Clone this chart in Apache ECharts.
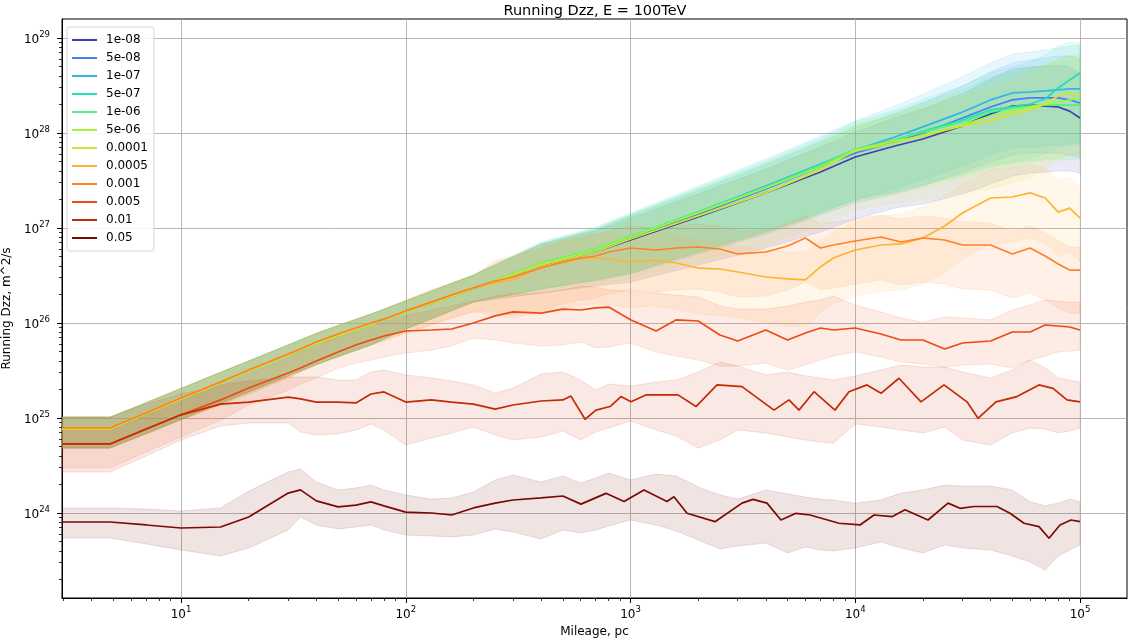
<!DOCTYPE html>
<html><head><meta charset="utf-8">
<script src="https://cdn.jsdelivr.net/npm/echarts@6/dist/echarts.min.js"></script>
<style>html,body{margin:0;padding:0;background:#fff}#c{width:1128px;height:643px}</style>
</head><body><div id="c"></div>
<script>
// ---------- tick values ----------
const X_TICKS = [10, 100, 1000, 10000, 100000];
const Y_TICKS = [1e24, 1e25, 1e26, 1e27, 1e28, 1e29];
const MINOR_X = [3,4,5,6,7,8,9,20,30,40,50,60,70,80,90,200,300,400,500,600,700,800,900,2000,3000,4000,5000,6000,7000,8000,9000,20000,30000,40000,50000,60000,70000,80000,90000];
const MINOR_Y = [2e23,3e23,4e23,5e23,6e23,7e23,8e23,9e23,2e24,3e24,4e24,5e24,6e24,7e24,8e24,9e24,2e25,3e25,4e25,5e25,6e25,7e25,8e25,9e25,2e26,3e26,4e26,5e26,6e26,7e26,8e26,9e26,2e27,3e27,4e27,5e27,6e27,7e27,8e27,9e27,2e28,3e28,4e28,5e28,6e28,7e28,8e28,9e28];

// ---------- categories ----------
const SERIES_LABELS = ['1e-08','5e-08','1e-07','5e-07','1e-06','5e-06','0.0001','0.0005','0.001','0.005','0.01','0.05'];

// ---------- mileage grids (pc) ----------
const X_COARSE = [2.954, 4.83, 10, 20, 40, 70, 100, 200, 400, 700, 1000, 2000, 4000, 7000, 10000, 15000, 20000, 30000, 40000, 50000, 60000, 70000, 80000, 90000, 100000];
const X_FINE = [2.954, 4.83, 7, 10, 15, 20, 30, 34, 40, 50, 60, 70, 80, 100, 130, 160, 200, 250, 300, 400, 500, 600, 700, 800, 1000, 1300, 1600, 2000, 2500, 3000, 4000, 5000, 6000, 7000, 8000, 10000, 13000, 16000, 20000, 25000, 30000, 40000, 50000, 60000, 70000, 80000, 90000, 100000];
const X_LINE_001 = [2.954, 4.83, 7, 10, 15, 20, 30, 34, 40, 50, 60, 70, 80, 100, 130, 160, 200, 250, 300, 400, 500, 543, 628, 702, 811, 907, 1005, 1172, 1627, 1956, 2426, 3134, 4350, 5072, 5620, 6555, 8126, 9380, 11280, 13020, 15650, 19620, 24830, 31430, 35180, 42290, 52450, 65700, 75850, 87540, 100000];
const X_LINE_005 = [2.954, 4.83, 7, 10, 15, 20, 30, 34, 40, 50, 60, 70, 80, 100, 130, 160, 200, 250, 300, 400, 500, 602, 778, 936, 1148, 1453, 1561, 1784, 2377, 3134, 3509, 4050, 4673, 5451, 6292, 8468, 10500, 12120, 14570, 16650, 21080, 25870, 29250, 33760, 42720, 48820, 56350, 65700, 72800, 81480, 91200, 100000];

// ---------- Dzz values (m^2/s): mean, lower, upper ----------
const D_1E08 = [7.66e24, 7.66e24, 1.58e25, 3.12e25, 6.1e25, 9.75e25, 1.31e26, 2.3e26, 4.08e26, 5.59e26, 7.48e26, 1.31e27, 2.34e27, 3.89e27, 5.59e27, 7.3e27, 8.65e27, 1.19e28, 1.59e28, 1.92e28, 1.97e28, 1.92e28, 1.88e28, 1.7e28, 1.44e28];
const HI_1E08 = [1.02e25, 1.02e25, 2.04e25, 3.98e25, 7.75e25, 1.24e26, 1.7e26, 3.2e26, 6.62e26, 9.3e26, 1.27e27, 2.28e27, 4.18e27, 7.12e27, 1.02e28, 1.44e28, 1.79e28, 2.57e28, 3.7e28, 4.72e28, 4.95e28, 5.07e28, 5.2e28, 4.95e28, 4.28e28];
const LO_1E08 = [4.83e24, 4.83e24, 9.64e24, 1.88e25, 3.66e25, 5.87e25, 8.65e25, 1.66e26, 2.07e26, 2.45e26, 2.7e26, 4.08e26, 6.16e26, 9.08e26, 1.24e27, 1.62e27, 1.79e27, 2.28e27, 2.91e27, 3.53e27, 3.79e27, 3.89e27, 3.98e27, 3.98e27, 3.79e27];

const D_5E08 = [7.66e24, 7.66e24, 1.58e25, 3.12e25, 6.1e25, 9.75e25, 1.31e26, 2.3e26, 4.18e26, 5.73e26, 7.85e26, 1.4e27, 2.57e27, 4.39e27, 6.16e27, 8.04e27, 1.0e28, 1.44e28, 1.88e28, 2.23e28, 2.34e28, 2.34e28, 2.34e28, 2.23e28, 2.07e28];
const HI_5E08 = [1.02e25, 1.02e25, 2.04e25, 3.98e25, 7.75e25, 1.24e26, 1.7e26, 3.2e26, 6.79e26, 9.53e26, 1.34e27, 2.45e27, 4.6e27, 8.04e27, 1.13e28, 1.59e28, 2.07e28, 3.12e28, 4.39e28, 5.46e28, 5.87e28, 6.16e28, 6.46e28, 6.46e28, 6.16e28];
const LO_5E08 = [4.83e24, 4.83e24, 9.64e24, 1.88e25, 3.66e25, 5.87e25, 8.65e25, 1.66e26, 2.28e26, 2.77e26, 3.28e26, 5.33e26, 8.65e26, 1.37e27, 1.83e27, 2.28e27, 2.77e27, 3.89e27, 4.95e27, 5.87e27, 6.16e27, 6.16e27, 6.16e27, 5.87e27, 5.46e27];

const D_1E07 = [7.66e24, 7.66e24, 1.58e25, 3.12e25, 6.1e25, 9.75e25, 1.31e26, 2.3e26, 4.18e26, 5.87e26, 8.04e26, 1.47e27, 2.77e27, 4.72e27, 6.62e27, 9.08e27, 1.16e28, 1.66e28, 2.23e28, 2.64e28, 2.7e28, 2.77e28, 2.84e28, 2.91e28, 2.91e28];
const HI_1E07 = [1.02e25, 1.02e25, 2.04e25, 3.98e25, 7.75e25, 1.24e26, 1.7e26, 3.2e26, 7.12e26, 1.02e27, 1.44e27, 2.77e27, 5.33e27, 9.3e27, 1.34e28, 1.92e28, 2.57e28, 3.89e28, 5.46e28, 6.79e28, 7.12e28, 7.48e28, 7.85e28, 8.24e28, 8.44e28];
const LO_1E07 = [4.83e24, 4.83e24, 9.64e24, 1.88e25, 3.66e25, 5.87e25, 8.65e25, 1.66e26, 2.28e26, 2.84e26, 3.36e26, 5.59e26, 9.3e26, 1.47e27, 1.97e27, 2.57e27, 3.2e27, 4.49e27, 5.87e27, 6.95e27, 7.12e27, 7.3e27, 7.48e27, 7.66e27, 7.66e27];

const D_5E07 = [7.66e24, 7.66e24, 1.58e25, 3.12e25, 6.1e25, 9.75e25, 1.31e26, 2.3e26, 4.18e26, 5.87e26, 8.04e26, 1.47e27, 2.7e27, 4.6e27, 6.62e27, 8.44e27, 1.05e28, 1.37e28, 1.75e28, 1.88e28, 2.02e28, 2.28e28, 2.98e28, 3.61e28, 4.28e28];
const HI_5E07 = [1.02e25, 1.02e25, 2.04e25, 3.98e25, 7.75e25, 1.24e26, 1.7e26, 3.2e26, 6.79e26, 9.76e26, 1.37e27, 2.64e27, 5.07e27, 8.86e27, 1.31e28, 1.75e28, 2.28e28, 3.12e28, 4.28e28, 4.95e28, 5.59e28, 6.62e28, 8.24e28, 9.08e28, 8.86e28];
const LO_5E07 = [4.83e24, 4.83e24, 9.64e24, 1.88e25, 3.66e25, 5.87e25, 8.65e25, 1.66e26, 2.28e26, 2.84e26, 3.36e26, 5.59e26, 9.08e26, 1.44e27, 1.97e27, 2.39e27, 2.91e27, 3.7e27, 4.6e27, 4.95e27, 5.33e27, 6.01e27, 6.95e27, 7.48e27, 7.85e27];

const D_1E06 = [7.66e24, 7.66e24, 1.58e25, 3.12e25, 6.1e25, 9.75e25, 1.31e26, 2.3e26, 4.28e26, 6.01e26, 8.24e26, 1.47e27, 2.7e27, 4.6e27, 6.79e27, 8.44e27, 1.02e28, 1.31e28, 1.66e28, 1.83e28, 1.92e28, 1.97e28, 1.97e28, 1.97e28, 1.97e28];
const HI_1E06 = [1.02e25, 1.02e25, 2.04e25, 3.98e25, 7.75e25, 1.24e26, 1.7e26, 3.2e26, 6.95e26, 1.0e27, 1.4e27, 2.57e27, 4.83e27, 8.44e27, 1.24e28, 1.66e28, 2.12e28, 2.84e28, 3.89e28, 4.49e28, 4.83e28, 5.2e28, 5.46e28, 5.73e28, 5.87e28];
const LO_1E06 = [4.83e24, 4.83e24, 9.64e24, 1.88e25, 3.66e25, 5.87e25, 8.65e25, 1.66e26, 2.34e26, 2.91e26, 3.44e26, 5.59e26, 9.08e26, 1.44e27, 2.02e27, 2.39e27, 2.84e27, 3.53e27, 4.39e27, 4.83e27, 5.07e27, 5.2e27, 5.2e27, 5.2e27, 5.2e27];

const D_5E06 = [7.66e24, 7.66e24, 1.58e25, 3.12e25, 6.1e25, 9.75e25, 1.31e26, 2.3e26, 4.18e26, 5.87e26, 8.04e26, 1.44e27, 2.64e27, 4.39e27, 6.46e27, 7.85e27, 9.53e27, 1.21e28, 1.51e28, 1.7e28, 1.88e28, 2.02e28, 2.12e28, 2.23e28, 2.34e28];
const HI_5E06 = [1.02e25, 1.02e25, 2.04e25, 3.98e25, 7.75e25, 1.24e26, 1.7e26, 3.2e26, 6.79e26, 9.76e26, 1.37e27, 2.51e27, 4.72e27, 8.04e27, 1.19e28, 1.55e28, 1.97e28, 2.64e28, 3.53e28, 4.18e28, 4.72e28, 5.33e28, 5.87e28, 6.46e28, 6.95e28];
const LO_5E06 = [4.83e24, 4.83e24, 9.64e24, 1.88e25, 3.66e25, 5.87e25, 8.65e25, 1.66e26, 2.28e26, 2.84e26, 3.36e26, 5.46e26, 8.86e26, 1.37e27, 1.92e27, 2.23e27, 2.64e27, 3.28e27, 3.98e27, 4.49e27, 4.95e27, 5.33e27, 5.59e27, 5.87e27, 6.16e27];

const D_1E04 = [7.66e24, 7.66e24, 1.58e25, 3.12e25, 6.1e25, 9.75e25, 1.31e26, 2.3e26, 4.08e26, 5.59e26, 7.66e26, 1.34e27, 2.34e27, 4.08e27, 6.62e27, 8.24e27, 9.3e27, 1.19e28, 1.34e28, 1.59e28, 1.75e28, 2.02e28, 2.45e28, 2.64e28, 2.51e28];
const HI_1E04 = [1.02e25, 1.02e25, 2.04e25, 3.98e25, 7.75e25, 1.24e26, 1.7e26, 3.2e26, 6.31e26, 8.86e26, 1.24e27, 2.23e27, 3.98e27, 7.12e27, 1.19e28, 1.55e28, 1.83e28, 2.45e28, 2.91e28, 3.61e28, 4.08e28, 4.83e28, 6.01e28, 6.62e28, 6.31e28];
const LO_1E04 = [4.83e24, 4.83e24, 9.64e24, 1.88e25, 3.66e25, 5.87e25, 8.65e25, 1.66e26, 2.07e26, 2.51e26, 2.91e26, 4.39e26, 6.62e26, 1.05e27, 1.55e27, 1.83e27, 1.97e27, 2.39e27, 2.57e27, 3.05e27, 3.36e27, 4.08e27, 5.2e27, 5.87e27, 5.87e27];

const D_5E04 = [7.85e24, 7.85e24, 1.13e25, 1.62e25, 2.39e25, 3.2e25, 4.72e25, 5.33e25, 6.31e25, 7.66e25, 8.86e25, 1.0e26, 1.1e26, 1.34e26, 1.66e26, 1.97e26, 2.34e26, 2.64e26, 2.84e26, 3.89e26, 4.28e26, 4.72e26, 4.83e26, 4.72e26, 4.39e26, 4.6e26, 4.28e26, 3.79e26, 3.7e26, 3.44e26, 3.05e26, 2.91e26, 2.84e26, 3.89e26, 4.83e26, 5.87e26, 6.62e26, 6.79e26, 7.85e26, 1.05e27, 1.44e27, 2.07e27, 2.12e27, 2.34e27, 2.07e27, 1.47e27, 1.62e27, 1.27e27];
const HI_5E04 = [1.02e25, 1.02e25, 1.44e25, 2.07e25, 3.05e25, 3.98e25, 5.87e25, 6.62e25, 7.85e25, 9.53e25, 1.1e26, 1.24e26, 1.4e26, 1.75e26, 2.23e26, 2.64e26, 3.12e26, 4.6e26, 5.07e26, 6.79e26, 7.48e26, 8.24e26, 8.65e26, 8.65e26, 8.24e26, 8.65e26, 8.24e26, 7.48e26, 7.12e26, 6.46e26, 5.87e26, 5.59e26, 5.59e26, 7.48e26, 9.08e26, 1.16e27, 1.34e27, 1.4e27, 1.66e27, 2.17e27, 2.91e27, 4.08e27, 4.28e27, 4.72e27, 4.28e27, 3.2e27, 3.36e27, 2.77e27];
const LO_5E04 = [4.83e24, 4.83e24, 6.79e24, 9.53e24, 1.37e25, 1.79e25, 2.64e25, 3.05e25, 3.61e25, 4.49e25, 5.2e25, 5.87e25, 6.46e25, 7.85e25, 9.53e25, 1.13e26, 1.31e26, 1.19e26, 1.13e26, 1.31e26, 1.44e26, 1.55e26, 1.59e26, 1.55e26, 1.47e26, 1.51e26, 1.4e26, 1.24e26, 1.21e26, 1.13e26, 1.0e26, 9.3e25, 9.3e25, 1.27e26, 1.59e26, 1.92e26, 2.17e26, 2.23e26, 2.57e26, 3.44e26, 4.72e26, 6.79e26, 7.12e26, 7.85e26, 6.95e26, 5.07e26, 5.59e26, 4.39e26];

const D_1E03 = [7.85e24, 7.85e24, 1.13e25, 1.62e25, 2.39e25, 3.2e25, 4.72e25, 5.33e25, 6.31e25, 7.66e25, 8.86e25, 1.0e26, 1.1e26, 1.34e26, 1.66e26, 1.97e26, 2.34e26, 2.77e26, 3.05e26, 3.79e26, 4.39e26, 4.83e26, 5.07e26, 5.59e26, 6.16e26, 5.87e26, 6.16e26, 6.31e26, 6.01e26, 5.33e26, 5.59e26, 6.46e26, 7.85e26, 6.16e26, 6.62e26, 7.3e26, 8.04e26, 7.12e26, 7.85e26, 7.48e26, 6.62e26, 6.62e26, 5.33e26, 6.16e26, 5.07e26, 4.18e26, 3.61e26, 3.61e26];
const HI_1E03 = [1.02e25, 1.02e25, 1.44e25, 2.07e25, 3.05e25, 3.98e25, 5.87e25, 6.62e25, 7.85e25, 9.53e25, 1.1e26, 1.24e26, 1.4e26, 1.75e26, 2.23e26, 2.64e26, 3.12e26, 4.39e26, 4.95e26, 6.16e26, 7.12e26, 7.85e26, 8.44e26, 9.3e26, 1.05e27, 1.0e27, 1.05e27, 1.1e27, 1.05e27, 9.3e26, 9.53e26, 1.1e27, 1.34e27, 1.1e27, 1.16e27, 1.24e27, 1.37e27, 1.24e27, 1.34e27, 1.27e27, 1.16e27, 1.13e27, 9.3e26, 1.05e27, 8.86e26, 7.3e26, 6.31e26, 6.31e26];
const LO_1E03 = [4.83e24, 4.83e24, 6.79e24, 9.53e24, 1.37e25, 1.79e25, 2.64e25, 3.05e25, 3.61e25, 4.49e25, 5.2e25, 5.87e25, 6.46e25, 7.85e25, 9.53e25, 1.13e26, 1.31e26, 1.31e26, 1.21e26, 1.37e26, 1.59e26, 1.75e26, 1.83e26, 2.02e26, 2.23e26, 2.12e26, 2.23e26, 2.28e26, 2.12e26, 1.88e26, 1.92e26, 2.23e26, 2.7e26, 2.23e26, 2.34e26, 2.57e26, 2.84e26, 2.51e26, 2.7e26, 2.57e26, 2.28e26, 2.23e26, 1.83e26, 2.07e26, 1.75e26, 1.44e26, 1.27e26, 1.27e26];

const D_5E03 = [5.33e24, 5.33e24, 7.66e24, 1.08e25, 1.55e25, 2.07e25, 2.98e25, 3.36e25, 3.98e25, 4.95e25, 5.87e25, 6.62e25, 7.3e25, 8.24e25, 8.44e25, 8.65e25, 1.0e26, 1.19e26, 1.31e26, 1.27e26, 1.4e26, 1.37e26, 1.44e26, 1.47e26, 1.08e26, 8.24e25, 1.08e26, 1.05e26, 7.48e25, 6.46e25, 8.44e25, 6.62e25, 7.85e25, 8.86e25, 8.44e25, 8.86e25, 7.66e25, 6.62e25, 6.62e25, 5.33e25, 6.16e25, 6.46e25, 8.04e25, 8.04e25, 9.53e25, 9.3e25, 9.08e25, 8.44e25];
const HI_5E03 = [7.48e24, 7.48e24, 1.08e25, 1.55e25, 2.17e25, 2.91e25, 4.28e25, 4.95e25, 5.73e25, 7.12e25, 8.04e25, 9.08e25, 1.02e26, 1.19e26, 1.37e26, 1.51e26, 1.7e26, 1.92e26, 2.02e26, 2.07e26, 2.23e26, 2.45e26, 2.39e26, 2.23e26, 2.17e26, 2.07e26, 1.97e26, 1.88e26, 1.51e26, 1.4e26, 1.4e26, 1.51e26, 1.66e26, 1.75e26, 1.92e26, 1.55e26, 1.31e26, 1.13e26, 1.02e26, 1.16e26, 1.13e26, 1.08e26, 1.37e26, 1.55e26, 1.75e26, 1.7e26, 1.66e26, 1.66e26];
const LO_5E03 = [2.98e24, 2.98e24, 4.39e24, 6.31e24, 9.53e24, 1.37e25, 1.97e25, 2.28e25, 2.64e25, 3.36e25, 3.79e25, 4.08e25, 4.39e25, 4.83e25, 5.2e25, 5.73e25, 6.95e25, 6.62e25, 6.16e25, 5.73e25, 5.87e25, 6.31e25, 5.46e25, 5.59e25, 6.16e25, 4.95e25, 4.49e25, 4.08e25, 3.53e25, 3.53e25, 3.79e25, 3.2e25, 3.61e25, 4.08e25, 4.49e25, 4.95e25, 4.39e25, 3.89e25, 3.7e25, 3.44e25, 3.61e25, 3.7e25, 3.36e25, 4.08e25, 4.49e25, 4.95e25, 5.07e25, 5.2e25];

const D_1E02 = [5.33e24, 5.33e24, 7.66e24, 1.08e25, 1.4e25, 1.47e25, 1.66e25, 1.59e25, 1.47e25, 1.47e25, 1.44e25, 1.79e25, 1.88e25, 1.47e25, 1.55e25, 1.47e25, 1.4e25, 1.24e25, 1.37e25, 1.51e25, 1.55e25, 1.7e25, 9.7e24, 1.21e25, 1.32e25, 1.68e25, 1.48e25, 1.75e25, 1.75e25, 1.32e25, 2.23e25, 2.14e25, 1.21e25, 1.55e25, 1.21e25, 1.89e25, 1.21e25, 1.89e25, 2.23e25, 1.82e25, 2.62e25, 1.48e25, 2.23e25, 1.48e25, 9.93e24, 1.48e25, 1.68e25, 2.23e25, 2.05e25, 1.55e25, 1.48e25];
const HI_1E02 = [1.02e25, 1.02e25, 1.4e25, 1.79e25, 2.23e25, 2.45e25, 2.7e25, 2.7e25, 2.7e25, 2.51e25, 2.51e25, 3.05e25, 3.2e25, 2.84e25, 2.64e25, 2.45e25, 2.23e25, 1.83e25, 2.07e25, 2.91e25, 3.05e25, 2.51e25, 1.97e25, 2.28e25, 2.17e25, 2.39e25, 2.51e25, 3.05e25, 3.89e25, 3.53e25, 2.84e25, 3.05e25, 2.77e25, 2.64e25, 2.51e25, 2.77e25, 3.2e25, 3.61e25, 3.44e25, 3.44e25, 3.05e25, 2.64e25, 3.2e25, 4.08e25, 3.36e25, 2.64e25, 2.51e25, 2.39e25];
const LO_1E02 = [2.7e24, 2.7e24, 3.98e24, 5.87e24, 8.24e24, 8.86e24, 8.86e24, 7.12e24, 6.62e24, 6.79e24, 7.48e24, 8.65e24, 7.48e24, 5.2e24, 6.16e24, 6.95e24, 8.04e24, 6.62e24, 5.87e24, 6.31e24, 7.3e24, 5.87e24, 7.12e24, 7.85e24, 9.3e24, 7.48e24, 6.46e24, 4.83e24, 5.87e24, 7.48e24, 6.95e24, 6.31e24, 5.87e24, 5.59e24, 5.46e24, 8.65e24, 8.04e24, 7.48e24, 6.95e24, 8.04e24, 5.87e24, 5.2e24, 6.95e24, 7.85e24, 7.66e24, 6.95e24, 7.3e24, 7.85e24];

const D_5E02 = [8.04e23, 8.04e23, 7.48e23, 6.95e23, 7.12e23, 9.08e23, 1.62e24, 1.75e24, 1.34e24, 1.16e24, 1.21e24, 1.31e24, 1.19e24, 1.02e24, 1.0e24, 9.53e23, 1.13e24, 1.27e24, 1.37e24, 1.44e24, 1.51e24, 1.24e24, 1.61e24, 1.32e24, 1.75e24, 1.32e24, 1.48e24, 9.93e23, 8.1e23, 1.27e24, 1.39e24, 1.27e24, 8.44e23, 9.93e23, 9.53e23, 7.8e23, 7.48e23, 9.53e23, 9.15e23, 1.08e24, 8.44e23, 1.27e24, 1.12e24, 1.17e24, 1.17e24, 9.93e23, 7.8e23, 7.18e23, 5.42e23, 7.48e23, 8.44e23, 8.1e23];
const HI_5E02 = [1.13e24, 1.13e24, 1.1e24, 1.05e24, 1.13e24, 1.7e24, 2.7e24, 2.91e24, 2.12e24, 1.75e24, 1.83e24, 1.97e24, 1.75e24, 1.55e24, 1.4e24, 1.44e24, 1.66e24, 2.23e24, 2.51e24, 2.12e24, 2.45e24, 2.07e24, 2.34e24, 2.64e24, 2.23e24, 2.57e24, 2.45e24, 1.88e24, 1.55e24, 1.4e24, 1.75e24, 1.59e24, 1.47e24, 1.4e24, 1.37e24, 1.27e24, 1.37e24, 1.62e24, 1.75e24, 1.97e24, 1.92e24, 1.92e24, 1.75e24, 1.31e24, 1.19e24, 1.27e24, 1.4e24, 1.31e24];
const LO_5E02 = [5.46e23, 5.46e23, 4.72e23, 4.08e23, 3.53e23, 4.28e23, 6.62e23, 9.08e23, 7.48e23, 6.79e23, 7.12e23, 7.48e23, 6.62e23, 5.87e23, 5.73e23, 5.59e23, 5.87e23, 6.79e23, 6.31e23, 5.33e23, 6.62e23, 6.16e23, 6.62e23, 7.3e23, 8.44e23, 7.48e23, 6.46e23, 5.2e23, 4.18e23, 4.49e23, 4.83e23, 3.79e23, 4.39e23, 4.08e23, 3.98e23, 4.28e23, 4.95e23, 4.28e23, 3.79e23, 4.6e23, 4.28e23, 4.08e23, 3.53e23, 3.05e23, 2.51e23, 3.53e23, 4.08e23, 4.6e23];

// ---------- styling ----------
const LINE_COLORS = ['#4040b0','#4580f5','#2cb6ea','#22e0b5','#4ff57a','#a4f53c','#d6e232','#fdb434','#ff8029','#ec4c13','#c42a04','#7a0a03'];
const FONT = 'DejaVu Sans';
const X_MIN = 2.954, X_MAX = 161900, Y_MIN = 1.274e23, Y_MAX = 1.585e29;

// [line x, mean, band x, lower, upper]
const SERIES_TABLE = [
  [X_COARSE, D_1E08, X_COARSE, LO_1E08, HI_1E08],
  [X_COARSE, D_5E08, X_COARSE, LO_5E08, HI_5E08],
  [X_COARSE, D_1E07, X_COARSE, LO_1E07, HI_1E07],
  [X_COARSE, D_5E07, X_COARSE, LO_5E07, HI_5E07],
  [X_COARSE, D_1E06, X_COARSE, LO_1E06, HI_1E06],
  [X_COARSE, D_5E06, X_COARSE, LO_5E06, HI_5E06],
  [X_COARSE, D_1E04, X_COARSE, LO_1E04, HI_1E04],
  [X_FINE, D_5E04, X_FINE, LO_5E04, HI_5E04],
  [X_FINE, D_1E03, X_FINE, LO_1E03, HI_1E03],
  [X_FINE, D_5E03, X_FINE, LO_5E03, HI_5E03],
  [X_LINE_001, D_1E02, X_FINE, LO_1E02, HI_1E02],
  [X_LINE_005, D_5E02, X_FINE, LO_5E02, HI_5E02]
];

function rgba(hex, a) {
  const n = parseInt(hex.slice(1), 16);
  return 'rgba(' + ((n >> 16) & 255) + ',' + ((n >> 8) & 255) + ',' + (n & 255) + ',' + a + ')';
}

const series = [];
SERIES_TABLE.forEach(function (row, i) {
  const xs = row[2], lo = row[3], hi = row[4];
  const rows = xs.map(function (x, k) { return [x, lo[k], hi[k]]; });
  const color = LINE_COLORS[i];
  series.push({
    type: 'custom', name: SERIES_LABELS[i] + ' band', silent: true, z: 1, clip: true,
    data: rows, encode: { x: 0, y: [1, 2] },
    renderItem: function (params, api) {
      if (params.dataIndex !== 0) return null;
      const top = rows.map(function (r) { return api.coord([r[0], r[2]]); });
      const bot = rows.map(function (r) { return api.coord([r[0], r[1]]); }).reverse();
      return {
        type: 'polygon',
        shape: { points: top.concat(bot) },
        style: { fill: rgba(color, 0.11), stroke: rgba(color, 0.12), lineWidth: 1 }
      };
    }
  });
});
SERIES_TABLE.forEach(function (row, i) {
  const xs = row[0], mean = row[1];
  series.push({
    type: 'line', name: SERIES_LABELS[i], z: 3, clip: true,
    data: xs.map(function (x, k) { return [x, mean[k]]; }),
    symbol: 'none', showSymbol: false,
    lineStyle: { width: 1.7, color: LINE_COLORS[i] },
    itemStyle: { color: LINE_COLORS[i] }
  });
});

function powLabel(v) {
  const n = Math.log10(v);
  const r = Math.round(n);
  if (Math.abs(n - r) > 1e-6) return '';
  return '{b|10}{s|' + r + '}';
}
const richLabel = {
  b: { fontFamily: FONT, fontSize: 12, color: '#000', lineHeight: 16, verticalAlign: 'bottom' },
  s: { fontFamily: FONT, fontSize: 8.5, color: '#000', lineHeight: 9, verticalAlign: 'top' }
};

const option = {
  animation: false,
  backgroundColor: '#fff',
  title: {
    text: 'Running Dzz, E = 100TeV', left: 595, top: 4, padding: 0, textAlign: 'center',
    textStyle: { fontFamily: FONT, fontSize: 14.5, fontWeight: 'normal', color: '#000' }
  },
  legend: {
    data: SERIES_LABELS, orient: 'vertical', left: 67, top: 27,
    icon: 'rect', itemWidth: 25, itemHeight: 2, itemGap: 6,
    padding: [7, 6, 7, 5],
    backgroundColor: 'rgba(255,255,255,0.85)', borderColor: '#d6d6d6', borderWidth: 1, borderRadius: 3,
    textStyle: { fontFamily: FONT, fontSize: 12, color: '#000', padding: [0, 0, 0, 4] }
  },
  grid: {
    left: 62, right: 1, top: 19, bottom: 45, containLabel: false, outerBoundsMode: 'none',
    show: true, borderColor: '#000', borderWidth: 1, backgroundColor: 'transparent'
  },
  xAxis: [{
    type: 'log', logBase: 10, min: X_MIN, max: X_MAX,
    name: 'Mileage, pc', nameLocation: 'middle', nameGap: 27,
    nameTextStyle: { fontFamily: FONT, fontSize: 12, color: '#000' },
    axisLine: { show: true, onZero: false, lineStyle: { color: '#000', width: 1 } },
    axisTick: { show: true, length: 5, lineStyle: { color: '#000', width: 1 }, customValues: X_TICKS },
    axisLabel: { margin: 7, formatter: powLabel, rich: richLabel, customValues: X_TICKS },
    splitLine: { show: true, lineStyle: { color: '#b0b0b0', width: 0.9 } }
  }, {
    type: 'log', logBase: 10, min: X_MIN, max: X_MAX, position: 'bottom',
    axisLine: { show: false },
    axisTick: { show: true, length: 3, lineStyle: { color: '#000', width: 0.8 }, customValues: MINOR_X },
    axisLabel: { show: false },
    splitLine: { show: false }
  }],
  yAxis: [{
    type: 'log', logBase: 10, min: Y_MIN, max: Y_MAX,
    name: 'Running Dzz, m^2/s', nameLocation: 'middle', nameGap: 42,
    nameTextStyle: { fontFamily: FONT, fontSize: 12, color: '#000' },
    axisLine: { show: true, onZero: false, lineStyle: { color: '#000', width: 1 } },
    axisTick: { show: true, length: 5, lineStyle: { color: '#000', width: 1 }, customValues: Y_TICKS },
    axisLabel: { margin: 12, formatter: powLabel, rich: richLabel, customValues: Y_TICKS },
    splitLine: { show: true, lineStyle: { color: '#b0b0b0', width: 0.9 } }
  }, {
    type: 'log', logBase: 10, min: Y_MIN, max: Y_MAX, position: 'left',
    axisLine: { show: false },
    axisTick: { show: true, length: 3, lineStyle: { color: '#000', width: 0.8 }, customValues: MINOR_Y },
    axisLabel: { show: false },
    splitLine: { show: false }
  }],
  series: series
};

const chart = echarts.init(document.getElementById('c'), null, { renderer: 'canvas' });
chart.setOption(option);
</script>
</body></html>
